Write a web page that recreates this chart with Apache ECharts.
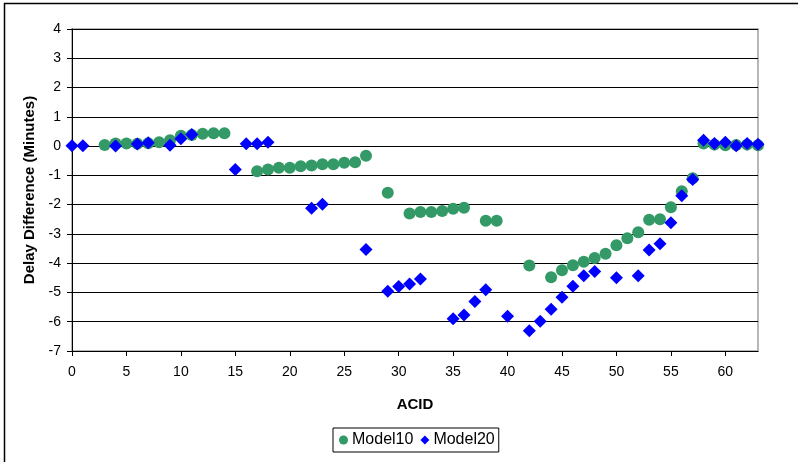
<!DOCTYPE html>
<html>
<head>
<meta charset="utf-8">
<script src="https://cdn.jsdelivr.net/npm/echarts@6/dist/echarts.min.js"></script>
<style>
  html, body { margin: 0; padding: 0; background: #fff; }
  #chart { width: 798px; height: 462px; }
</style>
</head>
<body>
<div id="chart"></div>
<script>
// ACID index and delay difference (minutes) per model
const model10Acid = [3, 4, 5, 6, 7, 8, 9, 10, 11, 12, 13, 14, 17, 18, 19, 20, 21, 22, 23, 24, 25, 26, 27, 29,
  31, 32, 33, 34, 35, 36, 38, 39, 42, 44, 45, 46, 47, 48, 49, 50, 51, 52, 53, 54, 55, 56, 57, 58, 59, 60, 61, 62, 63];
const model10Delay = [0.04, 0.09, 0.09, 0.08, 0.1, 0.13, 0.2, 0.35, 0.38, 0.42, 0.44, 0.44, -0.86, -0.8, -0.74, -0.74, -0.69, -0.66, -0.62, -0.62, -0.57, -0.55, -0.33, -1.59,
  -2.3, -2.25, -2.25, -2.22, -2.14, -2.11, -2.55, -2.55, -4.08, -4.48, -4.24, -4.07, -3.95, -3.82, -3.68, -3.39, -3.15, -2.94, -2.52, -2.5, -2.09, -1.54, -1.1, 0.09, 0.05, 0.03, 0.04, 0.05, 0.03];

const model20Acid = [0, 1, 4, 6, 7, 9, 10, 11, 15, 16, 17, 18, 22, 23, 27, 29, 30, 31, 32, 35, 36, 37, 38, 40,
  42, 43, 44, 45, 46, 47, 48, 50, 52, 53, 54, 55, 56, 57, 58, 59, 60, 61, 62, 63];
const model20Delay = [0.01, 0.01, 0, 0.07, 0.11, 0.03, 0.25, 0.4, -0.8, 0.08, 0.08, 0.13, -2.12, -1.99, -3.53, -4.96, -4.8, -4.71, -4.54, -5.9, -5.77, -5.31, -4.91, -5.81,
  -6.31, -5.98, -5.57, -5.16, -4.79, -4.43, -4.28, -4.5, -4.43, -3.55, -3.34, -2.62, -1.7, -1.14, 0.2, 0.09, 0.13, 0.01, 0.09, 0.06];

const xTicks = [0, 5, 10, 15, 20, 25, 30, 35, 40, 45, 50, 55, 60];
const yTicks = [-7, -6, -5, -4, -3, -2, -1, 0, 1, 2, 3, 4];

const FONT = 'Liberation Sans, Arial, sans-serif';

const pairs = (xs, ys) => xs.map((x, i) => [x, ys[i]]);

const chart = echarts.init(document.getElementById('chart'), null, { renderer: 'canvas' });

chart.setOption({
  animation: false,
  backgroundColor: '#fff',
  textStyle: { fontFamily: FONT, color: '#000' },
  graphic: [{
    type: 'rect',
    shape: { x: 4.5, y: 3.5, width: 820, height: 480 },
    style: { fill: 'none', stroke: '#000', lineWidth: 1.5 },
    silent: true
  }],
  grid: {
    left: 72, right: 40, top: 29, bottom: 111,
    show: true, borderColor: '#a0a0a0', borderWidth: 1.5, backgroundColor: '#fff'
  },
  legend: {
    left: 333, top: 428,
    orient: 'horizontal',
    borderColor: '#000', borderWidth: 1,
    padding: [4, 4, 4, 6],
    itemGap: 7,
    itemWidth: 9, itemHeight: 9,
    textStyle: { fontFamily: FONT, fontSize: 16, color: '#000', padding: [0, 0, 0, -1] },
    data: [{ name: 'Model10', icon: 'circle' }, { name: 'Model20', icon: 'diamond' }]
  },
  xAxis: {
    type: 'value',
    min: 0, max: 63,
    name: 'ACID',
    nameLocation: 'middle',
    nameGap: 46,
    nameTextStyle: { fontFamily: FONT, fontWeight: 'bold', fontSize: 15, color: '#000' },
    axisLine: { onZero: false, lineStyle: { color: '#000', width: 1 } },
    axisTick: { show: true, inside: false, length: 5, customValues: xTicks, lineStyle: { color: '#000' } },
    axisLabel: { customValues: xTicks, margin: 14, fontFamily: FONT, fontSize: 14, color: '#000' },
    splitLine: { show: false }
  },
  yAxis: {
    type: 'value',
    min: -7, max: 4, interval: 1,
    name: 'Delay Difference (Minutes)',
    nameLocation: 'middle',
    nameGap: 34,
    nameTextStyle: { fontFamily: FONT, fontWeight: 'bold', fontSize: 15, color: '#000' },
    axisLine: { show: true, onZero: false, lineStyle: { color: '#000', width: 1 } },
    axisTick: { show: true, inside: false, length: 5, customValues: yTicks, lineStyle: { color: '#000' } },
    axisLabel: { customValues: yTicks, margin: 11, fontFamily: FONT, fontSize: 14, color: '#000' },
    splitLine: { show: true, lineStyle: { color: '#000', width: 1 } }
  },
  series: [
    {
      name: 'Model10',
      type: 'scatter',
      symbol: 'circle',
      symbolSize: 12,
      itemStyle: { color: '#339966', opacity: 1 },
      data: pairs(model10Acid, model10Delay),
      z: 2
    },
    {
      name: 'Model20',
      type: 'scatter',
      symbol: 'diamond',
      symbolSize: 13,
      itemStyle: { color: '#0000ff', opacity: 1 },
      data: pairs(model20Acid, model20Delay),
      z: 3
    }
  ]
});
</script>
</body>
</html>
